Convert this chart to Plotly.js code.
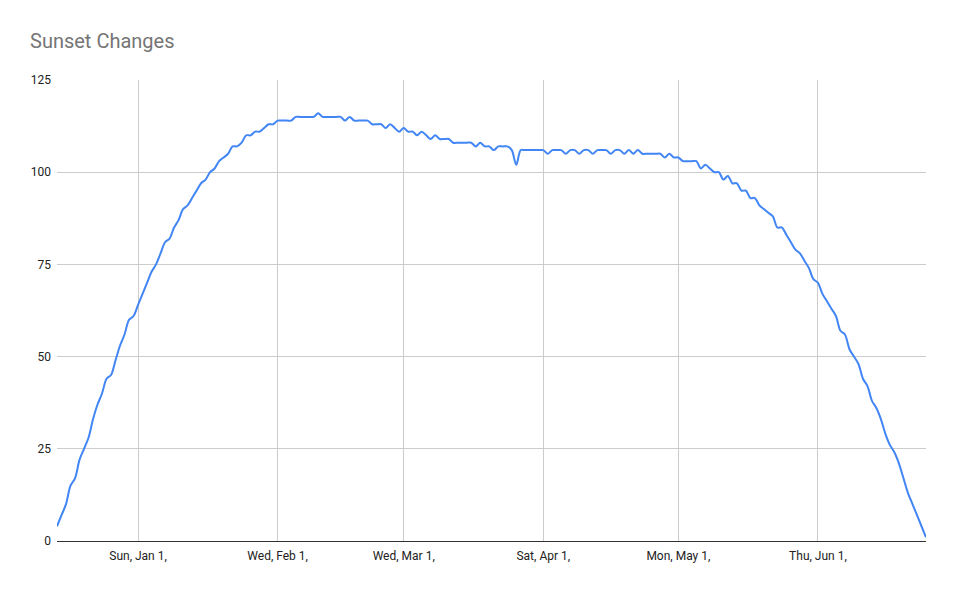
<!DOCTYPE html>
<html>
<head>
<meta charset="utf-8">
<script src="https://cdn.plot.ly/plotly-3.0.1.min.js"></script>
<style>
  html, body { margin: 0; padding: 0; background: #ffffff; }
  #chart { width: 956px; height: 591px; }
</style>
</head>
<body>
<div id="chart"></div>
<script>
// First day of the series (one value per day)
const startDate = '2022-12-14';

// Sunset change values, one per day from Dec 14, 2022 to Jun 25, 2023
const sunsetChanges = [
  4, 7, 10, 15, 17, 22, 25, 28, 33, 37,
  40, 44, 45, 49, 53, 56, 60, 61, 64, 67,
  70, 73, 75, 78, 81, 82, 85, 87, 90, 91,
  93, 95, 97, 98, 100, 101, 103, 104, 105, 107,
  107, 108, 110, 110, 111, 111, 112, 113, 113, 114,
  114, 114, 114, 115, 115, 115, 115, 115, 116, 115,
  115, 115, 115, 115, 114, 115, 114, 114, 114, 114,
  113, 113, 113, 112, 113, 112, 111, 112, 111, 111,
  110, 111, 110, 109, 110, 109, 109, 109, 108, 108,
  108, 108, 108, 107, 108, 107, 107, 106, 107, 107,
  107, 106, 102, 106, 106, 106, 106, 106, 106, 105,
  106, 106, 106, 105, 106, 106, 105, 106, 106, 105,
  106, 106, 106, 105, 106, 106, 105, 106, 105, 106,
  105, 105, 105, 105, 105, 104, 105, 104, 104, 103,
  103, 103, 103, 101, 102, 101, 100, 100, 98, 99,
  97, 97, 95, 95, 93, 93, 91, 90, 89, 88,
  85, 85, 83, 81, 79, 78, 76, 74, 71, 70,
  67, 65, 63, 61, 57, 56, 52, 50, 48, 44,
  42, 38, 36, 33, 29, 26, 24, 21, 17, 13,
  10, 7, 4, 1
];

// Tick positions and labels for the date axis
const tickDates = ['2023-01-01', '2023-02-01', '2023-03-01', '2023-04-01', '2023-05-01', '2023-06-01'];
const tickLabels = ['Sun, Jan 1,', 'Wed, Feb 1,', 'Wed, Mar 1,', 'Sat, Apr 1,', 'Mon, May 1,', 'Thu, Jun 1,'];

// Y ticks
const yTicks = [0, 25, 50, 75, 100, 125];

// Build the consecutive daily dates for the x axis
function isoDay(base, offset) {
  const d = new Date(base + 'T00:00:00Z');
  d.setUTCDate(d.getUTCDate() + offset);
  return d.toISOString().slice(0, 10);
}
const dates = sunsetChanges.map((_, i) => isoDay(startDate, i));

const trace = {
  x: dates,
  y: sunsetChanges,
  type: 'scatter',
  mode: 'lines',
  line: { color: '#4285F4', width: 2, shape: 'spline', smoothing: 0.9 },
  hoverinfo: 'x+y'
};

const layout = {
  width: 956,
  height: 591,
  paper_bgcolor: '#ffffff',
  plot_bgcolor: '#ffffff',
  margin: { l: 57, r: 30, t: 80, b: 50 },
  showlegend: false,
  font: { family: 'Roboto, Arial, sans-serif', size: 12, color: '#444444' },
  title: {
    text: 'Sunset Changes',
    x: 0, xref: 'container', xanchor: 'left',
    y: 1, yref: 'container', yanchor: 'top',
    pad: { t: 34, l: 30 },
    font: { family: 'Roboto, Arial, sans-serif', size: 20, color: '#757575' }
  },
  xaxis: {
    type: 'date',
    range: [dates[0], dates[dates.length - 1]],
    tickmode: 'array',
    tickvals: tickDates,
    ticktext: tickLabels,
    ticks: '',
    ticklabelstandoff: 4,
    showgrid: true,
    gridcolor: '#cccccc',
    gridwidth: 1,
    showline: true,
    linecolor: '#333333',
    linewidth: 1,
    zeroline: false,
    tickfont: { family: 'Roboto, Arial, sans-serif', size: 12, color: '#222222' },
    fixedrange: true
  },
  yaxis: {
    range: [0, 125],
    tickmode: 'array',
    tickvals: yTicks,
    ticks: '',
    ticklen: 0,
    ticklabelstandoff: 5,
    showgrid: true,
    gridcolor: '#cccccc',
    gridwidth: 1,
    zeroline: false,
    showline: false,
    tickfont: { family: 'Roboto, Arial, sans-serif', size: 12, color: '#222222' },
    fixedrange: true
  }
};

Plotly.newPlot('chart', [trace], layout, { displayModeBar: false, responsive: false });
</script>
</body>
</html>
